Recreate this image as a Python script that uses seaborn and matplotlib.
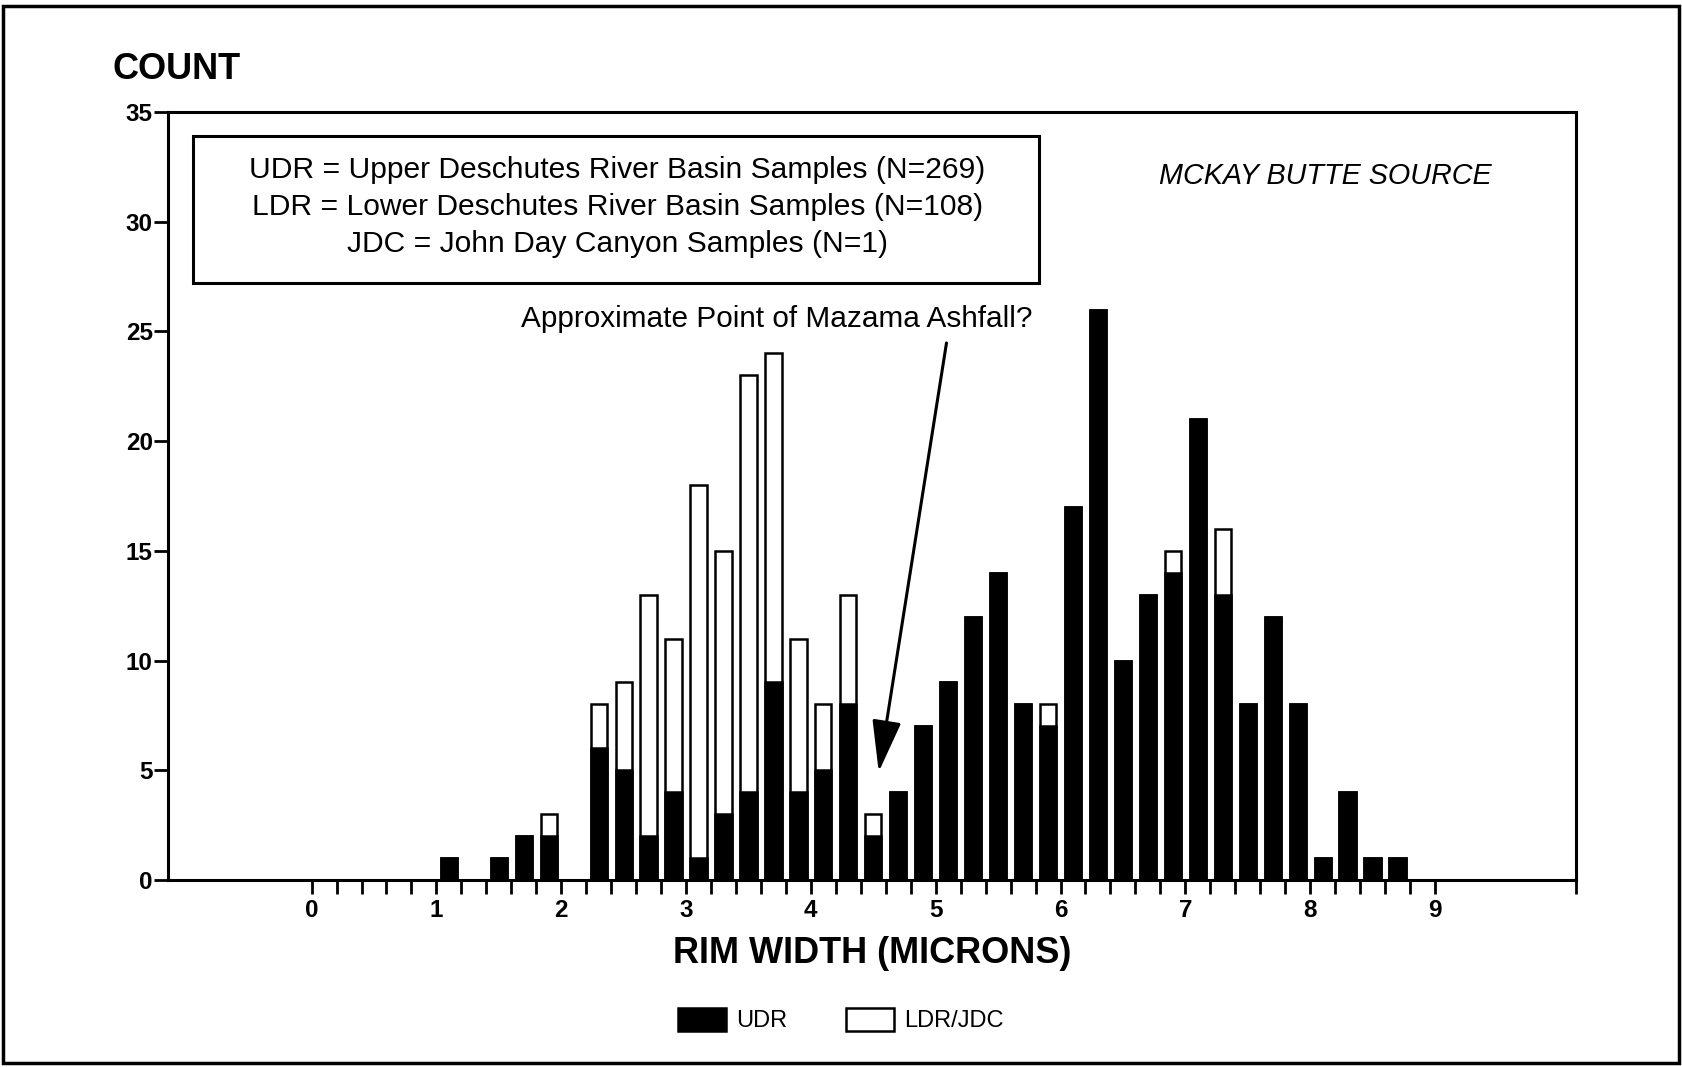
import numpy as np
import pandas as pd
import seaborn as sns
import matplotlib.pyplot as plt
from matplotlib.patches import Patch, Rectangle

# bin centres (microns) and counts
rim_width = [1.1, 1.5, 1.7, 1.9, 2.3, 2.5, 2.7, 2.9, 3.1, 3.3, 3.5, 3.7, 3.9,
             4.1, 4.3, 4.5, 4.7, 4.9, 5.1, 5.3, 5.5, 5.7, 5.9, 6.1, 6.3, 6.5,
             6.7, 6.9, 7.1, 7.3, 7.5, 7.7, 7.9, 8.1, 8.3, 8.5, 8.7]
udr = [1, 1, 2, 2, 6, 5, 2, 4, 1, 3, 4, 9, 4,
       5, 8, 2, 4, 7, 9, 12, 14, 8, 7, 17, 26, 10,
       13, 14, 21, 13, 8, 12, 8, 1, 4, 1, 1]
ldr_jdc = [0, 0, 0, 1, 2, 4, 11, 7, 17, 12, 19, 15, 7,
           3, 5, 1, 0, 0, 0, 0, 0, 0, 1, 0, 0, 0,
           0, 1, 0, 3, 0, 0, 0, 0, 0, 0, 0]

key_lines = ['UDR = Upper Deschutes River Basin Samples (N=269)',
             'LDR = Lower Deschutes River Basin Samples (N=108)',
             'JDC = John Day Canyon Samples (N=1)']

df = pd.DataFrame({'rim_width': rim_width, 'udr': udr, 'ldr_jdc': ldr_jdc})
df['total'] = df['udr'] + df['ldr_jdc']

sns.set_theme(style='ticks')
plt.rcParams['font.family'] = ['Liberation Sans', 'DejaVu Sans']
plt.rcParams['text.color'] = 'black'
plt.rcParams['axes.labelcolor'] = 'black'
plt.rcParams['xtick.color'] = 'black'
plt.rcParams['ytick.color'] = 'black'

fig = plt.figure(figsize=(16.82, 10.67), dpi=100)
ax = fig.add_axes([0.0999, 0.1753, 0.8371, 0.7197])

sns.barplot(data=df, x='rim_width', y='total', native_scale=True, width=0.65,
            color='white', edgecolor='black', linewidth=1.8, saturation=1,
            errorbar=None, ax=ax)
sns.barplot(data=df, x='rim_width', y='udr', native_scale=True, width=0.65,
            color='black', edgecolor='black', linewidth=1.8, saturation=1,
            errorbar=None, ax=ax)

ax.set_xlim(-1.15, 10.13)
ax.set_ylim(0, 35)
ax.set_xticks(np.arange(0, 10))
ax.set_xticklabels([str(i) for i in range(10)], fontsize=17.5, fontweight='bold')
ax.set_xticks([round(0.2 * i, 1) for i in range(46) if i % 5 != 0] + [10.13], minor=True)
ax.set_yticks(np.arange(0, 36, 5))
ax.set_yticklabels([str(v) for v in range(0, 36, 5)], fontsize=17.5, fontweight='bold')
ax.tick_params(axis='both', which='both', direction='out', length=10, width=2,
               color='black', pad=4)
ax.tick_params(axis='y', pad=1)
for s in ax.spines.values():
    s.set_visible(True)
    s.set_linewidth(2.2)
    s.set_color('black')

ax.set_xlabel('RIM WIDTH (MICRONS)', fontsize=26, fontweight='bold', labelpad=10)
ax.set_ylabel('')
fig.text(0.0666, 0.935, 'COUNT', fontsize=26, fontweight='bold', va='center', ha='left')

# key box
ax.add_patch(Rectangle((0.0178, 0.777), 0.601, 0.192, transform=ax.transAxes,
                       fill=False, edgecolor='black', linewidth=2.2))
for yy, line in zip([0.924, 0.876, 0.828], key_lines):
    ax.text(0.319, yy, line, transform=ax.transAxes, ha='center', va='center',
            fontsize=21.6)

ax.text(0.822, 0.917, 'MCKAY BUTTE SOURCE', transform=ax.transAxes, ha='center',
        va='center', fontsize=20.7, style='italic')

ax.text(0.432, 0.730, 'Approximate Point of Mazama Ashfall?', transform=ax.transAxes,
        ha='center', va='center', fontsize=21.4)
ax.annotate('', xy=(4.54, 4.8), xytext=(5.09, 24.6),
            arrowprops=dict(arrowstyle='-|>,head_length=1.6,head_width=0.45',
                            mutation_scale=20, lw=2.2, color='black'))

handles = [Patch(facecolor='black', edgecolor='black', linewidth=1.8, label='UDR'),
           Patch(facecolor='white', edgecolor='black', linewidth=1.8, label='LDR/JDC')]
fig.legend(handles=handles, loc='center', bbox_to_anchor=(0.5, 0.044), ncol=2,
           frameon=False, fontsize=17, handlelength=2.0, handleheight=1.15,
           handletextpad=0.45, columnspacing=2.5)

# outer frame around the whole figure
fig.patches.append(Rectangle((0.002, 0.004), 0.996, 0.99, transform=fig.transFigure,
                             fill=False, edgecolor='black', linewidth=2.5))

plt.savefig('out.png', dpi=100)
